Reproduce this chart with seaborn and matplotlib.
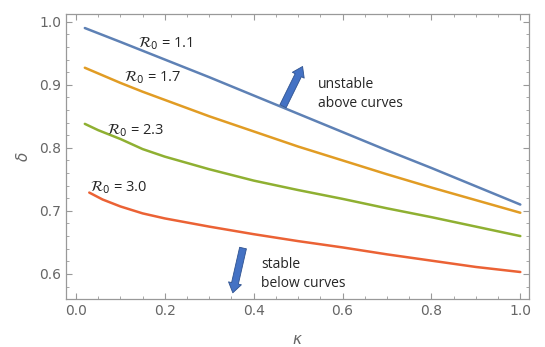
import numpy as np
import pandas as pd
import matplotlib
matplotlib.use("Agg")
import matplotlib.pyplot as plt
from matplotlib.ticker import MultipleLocator
import seaborn as sns

# curve data
kappa_11 = [0.02, 0.1, 0.2, 0.3, 0.4, 0.5, 0.6, 0.7, 0.8, 0.9, 1.0]
delta_11 = [0.990, 0.968, 0.940, 0.912, 0.883, 0.854, 0.825, 0.796, 0.768, 0.739, 0.710]

kappa_17 = [0.02, 0.06, 0.1, 0.15, 0.2, 0.3, 0.4, 0.5, 0.6, 0.7, 0.8, 0.9, 1.0]
delta_17 = [0.927, 0.915, 0.903, 0.889, 0.876, 0.850, 0.826, 0.802, 0.780, 0.758, 0.737, 0.717, 0.697]

kappa_23 = [0.02, 0.05, 0.1, 0.15, 0.2, 0.3, 0.4, 0.5, 0.6, 0.7, 0.8, 0.9, 1.0]
delta_23 = [0.838, 0.828, 0.814, 0.798, 0.786, 0.766, 0.748, 0.733, 0.719, 0.704, 0.690, 0.675, 0.660]

kappa_30 = [0.03, 0.06, 0.1, 0.15, 0.2, 0.3, 0.4, 0.5, 0.6, 0.7, 0.8, 0.9, 1.0]
delta_30 = [0.729, 0.718, 0.707, 0.696, 0.688, 0.675, 0.663, 0.652, 0.642, 0.631, 0.621, 0.611, 0.603]

r0_labels = ["1.1", "1.7", "2.3", "3.0"]
colors = ["#5E81B5", "#E19C24", "#8FB032", "#EB6235"]

frames = []
for lab, k, d in zip(r0_labels, [kappa_11, kappa_17, kappa_23, kappa_30],
                     [delta_11, delta_17, delta_23, delta_30]):
    frames.append(pd.DataFrame({"kappa": k, "delta": d, "R0": lab}))
df = pd.concat(frames, ignore_index=True)

sns.set_style("ticks")
plt.rcParams["font.family"] = ["DejaVu Sans"]

fig = plt.figure(figsize=(5.45, 3.47), dpi=100)
ax = fig.add_axes([0.121, 0.138, 0.850, 0.823])

sns.lineplot(data=df, x="kappa", y="delta", hue="R0", palette=colors,
             linewidth=1.8, legend=False, ax=ax, sort=True)

ax.set_xlim(-0.0225, 1.02)
ax.set_ylim(0.56, 1.013)
ax.xaxis.set_minor_locator(MultipleLocator(0.05))
ax.yaxis.set_minor_locator(MultipleLocator(0.02))
ax.set_xticks(np.arange(0, 1.01, 0.2))
ax.set_xticklabels(["0.0", "0.2", "0.4", "0.6", "0.8", "1.0"])
ax.set_yticks(np.arange(0.6, 1.01, 0.1))
ax.set_yticklabels(["0.6", "0.7", "0.8", "0.9", "1.0"])

ax.tick_params(which="both", direction="in", top=True, right=True,
               color="#999999", labelcolor="#666666", labelsize=10)
ax.tick_params(which="major", length=4.5, width=0.8)
ax.tick_params(which="minor", length=2.5, width=0.6)
for s in ax.spines.values():
    s.set_color("#999999")
    s.set_linewidth(0.9)

ax.set_xlabel(r"$\kappa$", color="#666666", fontsize=11, labelpad=10)
ax.set_ylabel(r"$\delta$", color="#666666", fontsize=11, labelpad=6)

# curve labels
lab_pos = [(0.14, 0.965), (0.108, 0.911), (0.07, 0.828), (0.032, 0.737)]
for lab, (x, y) in zip(r0_labels, lab_pos):
    ax.text(x, y, r"$\mathcal{R}_0$" + " = " + lab, fontsize=10.5,
            va="center", ha="left", family=["Open Sans", "DejaVu Sans"])

# arrows
arrow_kw = dict(arrowstyle="simple,head_width=9.5,head_length=7,tail_width=5",
                mutation_scale=1, fc="#4472C4", ec="#2F528F", lw=0.6,
                shrinkA=0, shrinkB=0)
ax.annotate("", xy=(0.510, 0.929), xytext=(0.466, 0.866), arrowprops=arrow_kw)
ax.annotate("", xy=(0.353, 0.570), xytext=(0.376, 0.641), arrowprops=arrow_kw)

ax.text(0.545, 0.886, "unstable\nabove curves", fontsize=10, va="center",
        ha="left", linespacing=1.35, family=["Open Sans", "DejaVu Sans"])
ax.text(0.417, 0.600, "stable\nbelow curves", fontsize=10, va="center",
        ha="left", linespacing=1.35, family=["Open Sans", "DejaVu Sans"])

fig.savefig("out.png", dpi=100)
